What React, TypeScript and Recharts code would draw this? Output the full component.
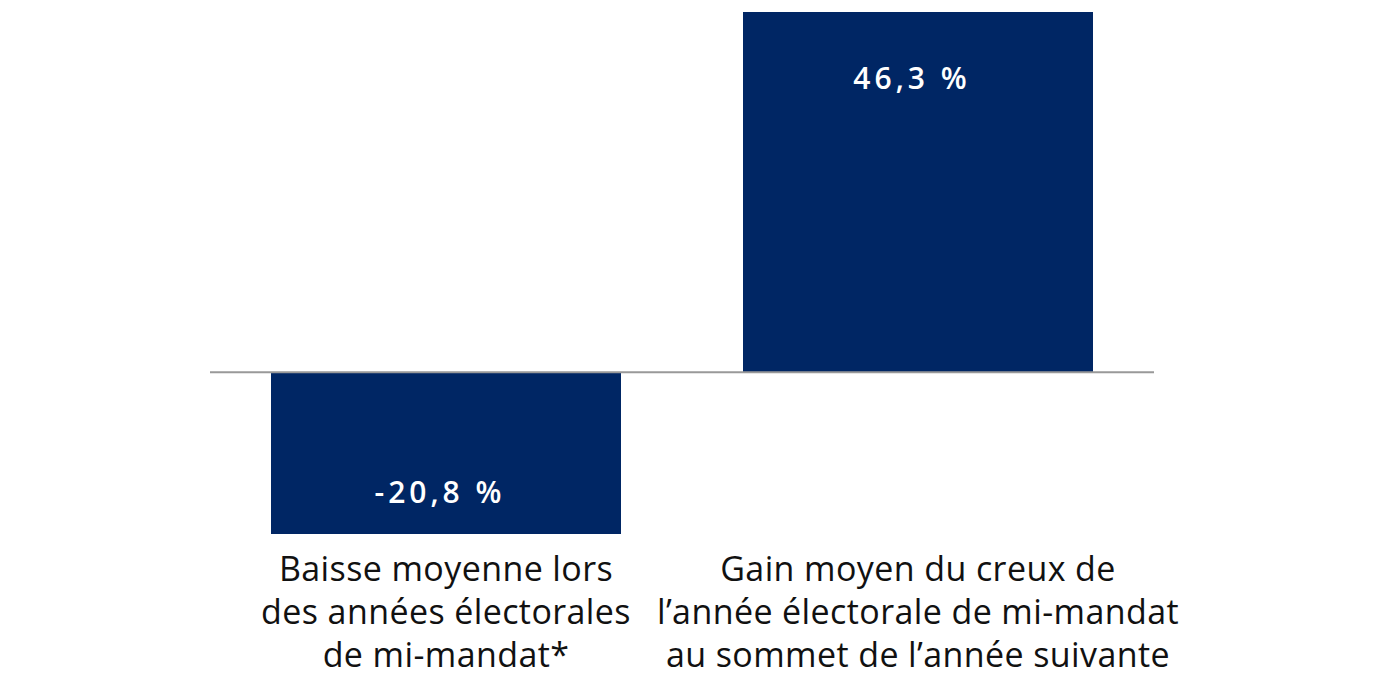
import { BarChart, Bar, XAxis, YAxis, ReferenceLine, LabelList, Cell } from "recharts";

const CATEGORIES = ["baisse", "gain"];
const CATEGORY_LINES = [
  ["Baisse moyenne lors", "des années électorales", "de mi-mandat*"],
  ["Gain moyen du creux de", "l’année électorale de mi-mandat", "au sommet de l’année suivante"],
];
const VALUES = [-20.8, 46.3];
const VALUE_LABELS = ["-20,8 %", "46,3 %"];

const NAVY = "#002664";
const FONT = "'Open Sans', Lato, sans-serif";

const data = CATEGORIES.map((c, i) => ({ key: c, value: VALUES[i], label: VALUE_LABELS[i] }));

function CategoryTick(props: any) {
  const { x, y, index } = props;
  const lines = CATEGORY_LINES[index] ?? [];
  return (
    <text x={x} y={y} textAnchor="middle" fill="#111" fontSize={34} fontFamily={FONT} letterSpacing={0.4}>
      {lines.map((l: string, i: number) => (
        <tspan key={i} x={x} y={y + 39 + i * 43}>
          {l}
        </tspan>
      ))}
    </text>
  );
}

function ValueLabel(props: any) {
  const { x, y, width, height, index } = props;
  const top = Math.min(y, y + height);
  const bottom = Math.max(y, y + height);
  const ty = VALUES[index] >= 0 ? top + 65 : bottom - 43;
  return (
    <text
      x={x + width / 2 - 6}
      y={ty}
      textAnchor="middle"
      dominantBaseline="central"
      fill="#fff"
      fontSize={30}
      fontWeight={600}
      fontFamily={FONT}
      letterSpacing={4}
    >
      {VALUE_LABELS[index]}
    </text>
  );
}

export default function App() {
  return (
    <div style={{ position: "absolute", left: 0, top: 0, width: 1380, height: 684, background: "#fff" }}>
      <BarChart
        width={1380}
        height={684}
        data={data}
        margin={{ top: 12, right: 226, bottom: 0, left: 210 }}
        barSize={350}
      >
        <XAxis
          dataKey="key"
          axisLine={false}
          tickLine={false}
          height={150}
          interval={0}
          tick={<CategoryTick />}
        />
        <YAxis hide domain={[-20.8, 46.3]} allowDataOverflow />
        <Bar dataKey="value" isAnimationActive={false}>
          {data.map((_, i) => (
            <Cell key={i} fill={NAVY} />
          ))}
          <LabelList dataKey="label" content={<ValueLabel />} />
        </Bar>
        <ReferenceLine y={0} stroke="#999" strokeWidth={2} />
      </BarChart>
    </div>
  );
}
